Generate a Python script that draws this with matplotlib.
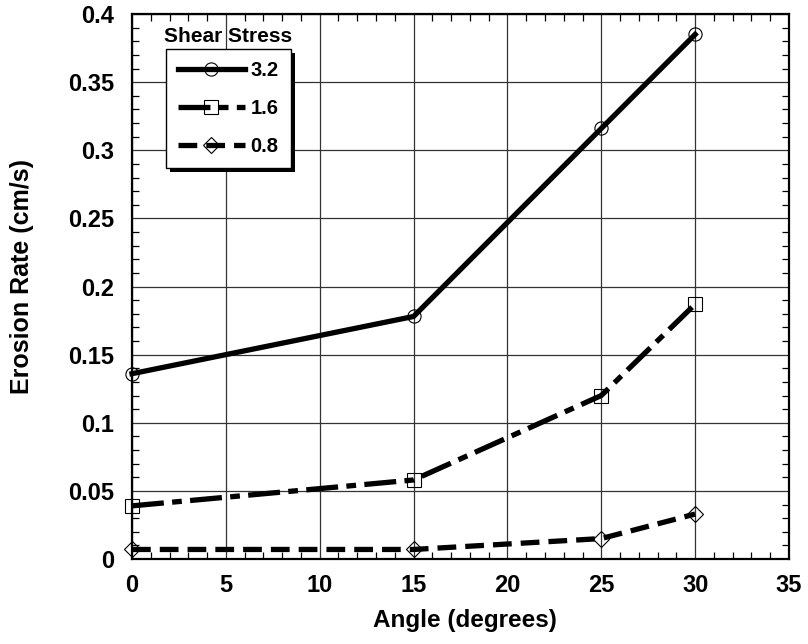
import matplotlib
matplotlib.use("Agg")
import matplotlib.pyplot as plt
from matplotlib.ticker import MultipleLocator
from matplotlib.patches import Rectangle

plt.rcParams['font.family'] = ['Liberation Sans', 'DejaVu Sans']
plt.rcParams['font.weight'] = 'bold'
plt.rcParams['lines.scale_dashes'] = False

# dane
angle = [0, 15, 25, 30]
rate_32 = [0.136, 0.178, 0.316, 0.385]
rate_16 = [0.039, 0.058, 0.120, 0.187]
rate_08 = [0.007, 0.007, 0.015, 0.033]
labels = ['3.2', '1.6', '0.8']

fig = plt.figure(figsize=(8.08, 6.44), dpi=100)
ax = fig.add_axes([132 / 808, 1 - 559 / 644, (789 - 132) / 808, (559 - 14) / 644])

common = dict(color='black', lw=3.8, markersize=9.5, markerfacecolor='none',
              markeredgewidth=0.8, markeredgecolor='black', clip_on=False)
ax.plot(angle, rate_32, '-', marker='o', label=labels[0], **common)
ax.plot(angle, rate_16, linestyle=(0, (23, 6, 7, 6)), marker='s', label=labels[1], **common)
ax.plot(angle, rate_08, linestyle=(0, (13.5, 6.5)), marker='D', label=labels[2],
        **{**common, 'markersize': 8.5})

ax.set_xlim(0, 35)
ax.set_ylim(0, 0.4)
ax.xaxis.set_major_locator(MultipleLocator(5))
ax.xaxis.set_minor_locator(MultipleLocator(1))
ax.yaxis.set_minor_locator(MultipleLocator(0.01))
ax.set_yticks([0, 0.05, 0.1, 0.15, 0.2, 0.25, 0.3, 0.35, 0.4])
ax.set_yticklabels(['0', '0.05', '0.1', '0.15', '0.2', '0.25', '0.3', '0.35', '0.4'])

ax.grid(True, which='major', color='#333333', lw=0.9)
ax.tick_params(which='both', direction='in', top=True, right=True, labelsize=17)
ax.tick_params(axis='y', which='major', length=0, pad=13)
ax.tick_params(axis='x', which='major', length=0, pad=11)
ax.tick_params(which='minor', length=5, width=0.9)
for s in ax.spines.values():
    s.set_linewidth(1.6)

ax.set_xlabel('Angle (degrees)', fontsize=17.5, fontweight='bold', va='top')
ax.xaxis.set_label_coords(0.507, -0.091)
ax.set_ylabel('Erosion Rate (cm/s)', fontsize=18, fontweight='bold')
ax.yaxis.set_label_coords(-0.149, 0.519)

leg = ax.legend(loc='upper left', bbox_to_anchor=((166 - 132) / 657, 1 - (49 - 14) / 545),
                handlelength=3.3, frameon=True, fancybox=False,
                borderpad=0.6, labelspacing=0.95, handletextpad=0.3,
                prop={'weight': 'bold', 'size': 14.5}, borderaxespad=0)
leg.get_frame().set_edgecolor('black')
leg.get_frame().set_linewidth(1.0)
leg.get_frame().set_alpha(1)
leg.set_zorder(5)

# cień legendy rysowany ręcznie
fig.canvas.draw()
bb = leg.get_window_extent().transformed(fig.transFigure.inverted())
shadow = Rectangle((bb.x0 + 4 / 808, bb.y0 - 4 / 644), bb.width, bb.height,
                   transform=fig.transFigure, facecolor='black', zorder=4.5, clip_on=False)
ax.add_patch(shadow)
fig.text((bb.x0 + bb.x1) / 2, bb.y1 + 3 / 644, 'Shear Stress', ha='center', va='bottom',
         fontsize=15, fontweight='bold')

fig.savefig('out.png', dpi=100)
